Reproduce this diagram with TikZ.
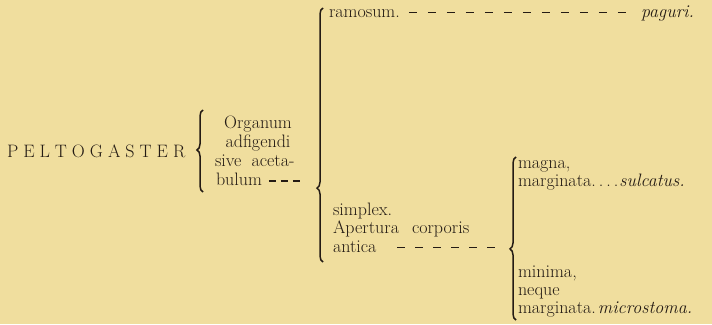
\documentclass[tikz,border=0pt]{standalone}
\usetikzlibrary{decorations.pathreplacing,calc}
\definecolor{paper}{RGB}{240,222,158}
\definecolor{ink}{RGB}{36,27,20}
% letter spacing for the genus name
\newcommand{\ls}{\kern5pt}
\tikzset{
  txt/.style={anchor=base west, inner sep=0pt, outer sep=0pt, text=ink,
              font=\fontsize{18}{18}\selectfont},
  ctxt/.style={txt, anchor=base},
  bracket/.style={draw=ink, line width=1.5pt, decorate,
                  decoration={brace, amplitude=6pt, aspect=#1}},
  leader/.style={draw=ink, line width=1.7pt, dash pattern=on 8pt off 11pt},
  midleader/.style={draw=ink, line width=1.7pt, dash pattern=on 8pt off 10pt},
  shortleader/.style={draw=ink, line width=1.7pt, dash pattern=on 7pt off 5pt},
}
\begin{document}
\begin{tikzpicture}[x=1pt,y=-1pt]
\fill[paper] (0,0) rectangle (712,324);
\useasboundingbox (0,0) rectangle (712,324);

% genus
\node[txt] (genus) at (7,157) {P\ls E\ls L\ls T\ls O\ls G\ls A\ls S\ls T\ls E\ls R};

% first bracket: the attachment organ
\coordinate (aBot) at (203,192);
\coordinate (aTop) at (203,110);
\draw[bracket=0.512] (aBot) -- (aTop);
\node[ctxt] (org1) at (258,128) {Organum};
\node[ctxt] (org2) at (258,147) {adfigendi};
\node[txt]  (org3) at (215,166) {sive\hspace{10pt}aceta-};
\node[txt]  (org4) at (216,185) {bulum};

% second bracket: ramosum / simplex
\coordinate (bBot) at (323,262);
\coordinate (bTop) at (323,8);
\coordinate (bTip) at (317,188);
\draw[bracket=0.291] (bBot) -- (bTop);
\coordinate (bulDash) at ($(org4.base east)+(7,-4)$);
\coordinate (bulEnd) at ($(bulDash)+(31,0)$);
\draw[shortleader] (bulDash) -- (bulEnd);

\node[txt] (ram) at (329,17) {ramosum.};
\node[txt, anchor=base east] (pag) at (694,17) {\textit{paguri.}};
\coordinate (ramDash) at ($(ram.base east)+(9,-4.5)$);
\draw[leader, shorten >=8pt] (ramDash) -- (ramDash -| pag.west);

\node[txt] (s1) at (333,215) {simplex.};
\node[txt] (s2) at (333,233) {Apertura\hspace{13pt}corporis};
\node[txt] (s3) at (333,252) {antica};

% third bracket: size and margin of the opening
\coordinate (cBot) at (516,320);
\coordinate (cTop) at (516,157);
\coordinate (cTip) at (510,249);
\draw[bracket=0.436] (cBot) -- (cTop);
\coordinate (antDash) at ($(s3.base east)+(21,-4.5)$);
\draw[midleader, shorten >=10pt] (antDash) -- (antDash -| cTip);

\node[txt] (m1) at (518,168) {magna,};
\node[txt] (m2) at (518,186) {marginata.\kern3pt.\kern3pt.\kern3pt.\kern1pt\textit{sulcatus.}};
\node[txt] (n1) at (518,277) {minima,};
\node[txt] (n2) at (518,295) {neque};
\node[txt] (n3) at (518,313) {marginata.\kern2pt\textit{microstoma.}};
\end{tikzpicture}
\end{document}
